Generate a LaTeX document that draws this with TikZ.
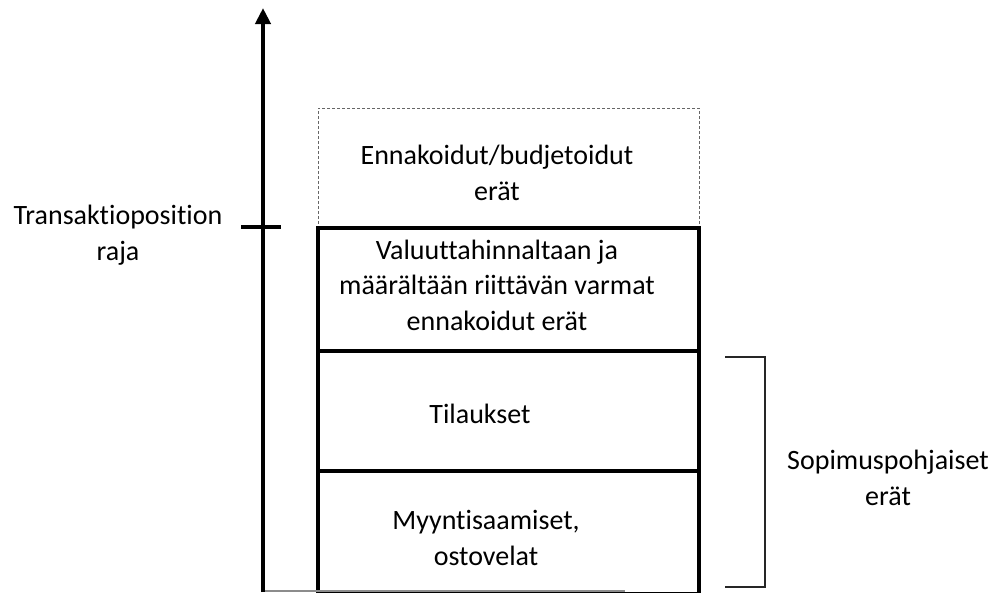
\documentclass[tikz,border=0pt]{standalone}
\usepackage{fontspec}
\setmainfont{Carlito}[Ligatures=NoCommon]
\usetikzlibrary{arrows.meta}
\begin{document}
\begin{tikzpicture}[x=1pt,y=-1pt,
  lbl/.style={font=\fontsize{28}{35.5}\selectfont, align=center, inner sep=0pt, anchor=base},
  boxthick/.style={draw=black, line width=4pt, inner sep=0pt},
  dashbox/.style={draw=black!60, line width=1pt, dash pattern=on 3pt off 2pt, inner sep=0pt},
  axisline/.style={line width=4pt, -{Triangle[width=15pt,length=16pt]}},
  tickline/.style={line width=4pt},
  bracketline/.style={draw=black!85, line width=2pt},
  baseline/.style={draw=black!45, line width=1.2pt}
]
\useasboundingbox (0,0) rectangle (998,592);
% coordinates
\coordinate (axbot) at (263,592);
\coordinate (axtop) at (263,8);
\coordinate (tickL) at (241,227);
\coordinate (tickR) at (281,227);
\coordinate (baseR) at (625,591);
\coordinate (axbase) at (263,591);
% boxes
\node[dashbox, minimum width=381pt, minimum height=120pt] (forecast) at (508.5,168) {};
\node[boxthick, minimum width=381pt, minimum height=123pt] (certain) at (508.5,289.5) {};
\node[boxthick, minimum width=381pt, minimum height=120pt] (orders) at (508.5,411) {};
\node[boxthick, minimum width=381pt, minimum height=123pt] (receiv) at (508.5,532.5) {};
% baseline and axis
\draw[baseline] (axbase) -- (baseR);
\draw[axisline] (axbot) -- (axtop);
\draw[tickline] (tickL) -- (tickR);
% bracket
\coordinate (brTL) at (725,357);
\coordinate (brTR) at (765,357);
\coordinate (brBR) at (765,587);
\coordinate (brBL) at (725,587);
\draw[bracketline] (brTL) -- (brTR) -- (brBR) -- (brBL);
% labels (anchor = baseline of last line)
\node[lbl] (tlabel) at (118,260) {Transaktioposition\\raja};
\node[lbl] (t1) at (497,200) {Ennakoidut/budjetoidut\\erät};
\node[lbl] (t2) at (497,330) {Valuuttahinnaltaan ja\\määrältään riittävän varmat\\ennakoidut erät};
\node[lbl] (t3) at (480,423) {Tilaukset};
\node[lbl] (t4) at (486,565) {Myyntisaamiset,\\ostovelat};
\node[lbl] (t5) at (888,505) {Sopimuspohjaiset\\erät};
\end{tikzpicture}
\end{document}
